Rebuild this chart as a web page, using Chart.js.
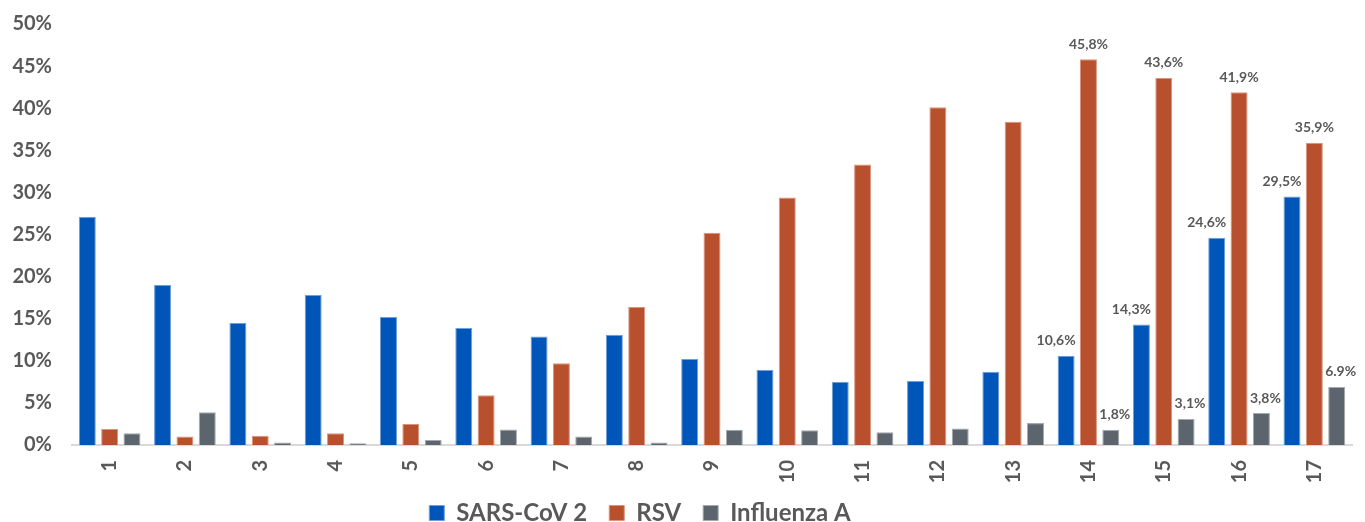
<!DOCTYPE html>
<html>
<head>
<meta charset="utf-8">
<script src="https://cdn.jsdelivr.net/npm/chart.js@4.4.0/dist/chart.umd.min.js"></script>
<style>
    html, body { margin: 0; padding: 0; background: #ffffff; }
    #wrap { width: 1365px; height: 522px; }
</style>
</head>
<body>
<div id="wrap"><canvas id="chart" width="1365" height="522"></canvas></div>
<script>
const weeks = ['1', '2', '3', '4', '5', '6', '7', '8', '9', '10', '11', '12', '13', '14', '15', '16', '17'];
const sarsCov2 = [27.1, 19.0, 14.5, 17.8, 15.2, 13.9, 12.9, 13.1, 10.2, 8.9, 7.5, 7.6, 8.7, 10.6, 14.3, 24.6, 29.5];
const rsv = [1.9, 1.0, 1.1, 1.4, 2.5, 5.9, 9.7, 16.4, 25.2, 29.4, 33.3, 40.1, 38.4, 45.8, 43.6, 41.9, 35.9];
const influenzaA = [1.4, 3.9, 0.3, 0.2, 0.6, 1.85, 1.0, 0.3, 1.8, 1.75, 1.5, 1.95, 2.6, 1.8, 3.1, 3.8, 6.9];

const sarsLabels = [null, null, null, null, null, null, null, null, null, null, null, null, null, '10,6%', '14,3%', '24,6%', '29,5%'];
const rsvLabels = [null, null, null, null, null, null, null, null, null, null, null, null, null, '45,8%', '43,6%', '41,9%', '35,9%'];
const fluLabels = [null, null, null, null, null, null, null, null, null, null, null, null, null, '1,8%', '3,1%', '3,8%', '6.9%'];

const yTicks = [0, 5, 10, 15, 20, 25, 30, 35, 40, 45, 50];

const textColor = '#595959';
const fontFamily = 'Lato, "Open Sans", sans-serif';

// draws the value labels above the last few groups
const valueLabels = {
    id: 'valueLabels',
    afterDatasetsDraw(chart) {
        const ctx = chart.ctx;
        const shifts = [-10, 0, 4];
        ctx.save();
        ctx.font = 'bold 14px ' + fontFamily;
        ctx.fillStyle = textColor;
        ctx.textAlign = 'center';
        ctx.textBaseline = 'middle';
        chart.data.datasets.forEach((ds, i) => {
            const meta = chart.getDatasetMeta(i);
            ds.valueLabels.forEach((txt, j) => {
                if (!txt) return;
                const bar = meta.data[j];
                ctx.fillText(txt, bar.x + shifts[i], bar.y - 15);
            });
        });
        ctx.restore();
    }
};

// nudge the legend to where it sits in the original
// (only the top moves up, so the clip box still holds the items)
const legendShift = {
    id: 'legendShift',
    afterLayout(chart) {
        const lg = chart.legend;
        lg.top -= 11;
        lg.left -= 36; lg.right -= 36;
    }
};

const ctx = document.getElementById('chart').getContext('2d');
const chart = new Chart(ctx, {
    type: 'bar',
    data: {
        labels: weeks,
        datasets: [
            { label: 'SARS-CoV 2', data: sarsCov2, valueLabels: sarsLabels, backgroundColor: '#0055b8', borderColor: '#6f9fd8', borderWidth: 1 },
            { label: 'RSV', data: rsv, valueLabels: rsvLabels, backgroundColor: '#b9502d', borderColor: '#d8957d', borderWidth: 1 },
            { label: 'Influenza A', data: influenzaA, valueLabels: fluLabels, backgroundColor: '#5c656e', borderColor: '#a3a9ae', borderWidth: 1 }
        ]
    },
    options: {
        responsive: false,
        animation: false,
        layout: { padding: { top: 24, right: 13, left: 0, bottom: 0 } },
        datasets: {
            bar: { barPercentage: 0.76, categoryPercentage: 0.89 }
        },
        plugins: {
            legend: {
                position: 'bottom',
                maxHeight: 32,
                labels: {
                    boxWidth: 15,
                    boxHeight: 15,
                    padding: 22,
                    color: textColor,
                    font: { family: fontFamily, size: 24, weight: 'bold' }
                }
            },
            tooltip: { enabled: false }
        },
        scales: {
            x: {
                grid: { display: false, drawTicks: false },
                border: { display: true, color: '#d9d9d9', width: 2 },
                ticks: {
                    color: textColor,
                    minRotation: 90,
                    maxRotation: 90,
                    padding: 15,
                    font: { family: fontFamily, size: 20, weight: 'bold' }
                },
                afterFit(scale) { scale.height = 45; }
            },
            y: {
                min: 0,
                max: 50,
                grid: { display: false, drawTicks: false },
                border: { display: false },
                afterBuildTicks(scale) { scale.ticks = yTicks.map(v => ({ value: v })); },
                ticks: {
                    color: textColor,
                    padding: 20,
                    font: { family: fontFamily, size: 20, weight: 'bold' },
                    callback: v => v + '%'
                },
                afterFit(scale) {
                    scale.width = 72;
                    scale.paddingTop = 0;
                    scale.paddingBottom = 0;
                }
            }
        }
    },
    plugins: [valueLabels, legendShift]
});
</script>
</body>
</html>
